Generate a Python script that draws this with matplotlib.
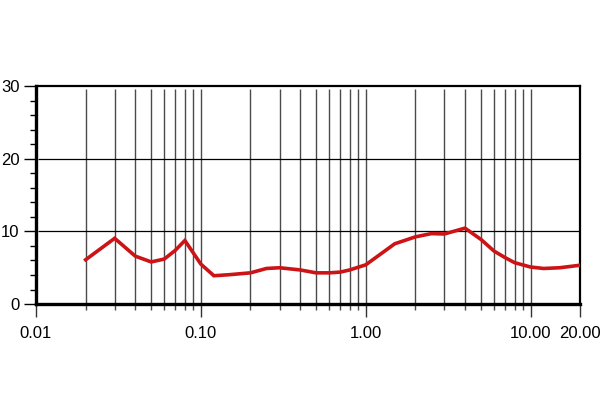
import numpy as np
import matplotlib
matplotlib.use("Agg")
import matplotlib.pyplot as plt
from matplotlib.ticker import FixedLocator, NullFormatter

plt.rcParams["font.family"] = ["Liberation Sans", "DejaVu Sans"]

# curve
freq = [0.02, 0.03, 0.04, 0.05, 0.06, 0.07, 0.08, 0.1, 0.12, 0.15, 0.2,
        0.25, 0.3, 0.4, 0.5, 0.6, 0.7, 0.8, 1.0, 1.5, 2.0, 2.5, 3.0, 4.0,
        5.0, 6.0, 7.0, 8.0, 10.0, 12.0, 15.0, 20.0]
value = [6.1, 9.05, 6.6, 5.8, 6.2, 7.4, 8.75, 5.5, 3.9, 4.05, 4.3,
         4.9, 5.0, 4.7, 4.3, 4.3, 4.4, 4.7, 5.4, 8.3, 9.25, 9.7, 9.65, 10.45,
         8.9, 7.3, 6.4, 5.7, 5.1, 4.9, 5.0, 5.35]

x_major = [0.01, 0.1, 1.0, 10.0, 20.0]
x_labels = ["0.01", "0.10", "1.00", "10.00", "20.00"]
x_minor = [m * d for d in (0.01, 0.1, 1.0) for m in range(2, 10)]
x_grid = x_minor + [0.1, 1.0, 10.0]
y_major = [0, 10, 20, 30]
y_minor = list(range(0, 31, 2))
y_grid = [10, 20]

fig = plt.figure(figsize=(6, 4.2), dpi=100)
ax = fig.add_axes([0.06, 0.276, 0.907, 0.519])

ax.set_xscale("log")
ax.set_xlim(0.01, 20)
ax.set_ylim(0, 30)

# grid
ax.vlines(x_grid, 0, 29.55, color="#4a4a4a", lw=1.0, zorder=1)
ax.hlines(y_grid, 0.0103, 20, color="black", lw=0.9, zorder=1)

ax.plot(freq, value, color="#cc1417", lw=2.6, solid_joinstyle="miter",
        zorder=3)

ax.xaxis.set_major_locator(FixedLocator(x_major))
ax.set_xticklabels(x_labels)
ax.xaxis.set_minor_locator(FixedLocator(x_minor))
ax.xaxis.set_minor_formatter(NullFormatter())
ax.yaxis.set_major_locator(FixedLocator(y_major))
ax.yaxis.set_minor_locator(FixedLocator(y_minor))

ax.tick_params(axis="x", which="major", direction="out", length=9,
               width=1.0, labelsize=12, pad=7, color="#333333")
ax.tick_params(axis="x", which="minor", direction="out", length=4.5,
               width=1.0, color="#4a4a4a")
ax.tick_params(axis="y", which="major", direction="out", length=9,
               width=1.0, labelsize=12, pad=3)
ax.tick_params(axis="y", which="minor", direction="out", length=4.5,
               width=1.0)

ax.spines["left"].set_linewidth(2.4)
ax.spines["bottom"].set_linewidth(2.4)
ax.spines["top"].set_linewidth(1.6)
ax.spines["right"].set_linewidth(1.6)

fig.savefig("out.png", dpi=100, facecolor="white")
